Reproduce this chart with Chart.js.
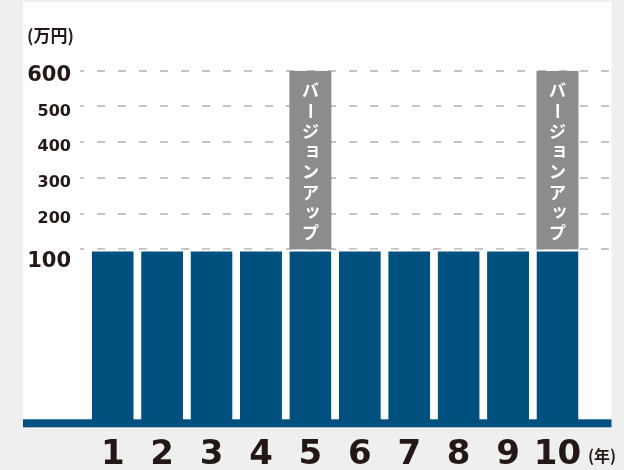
<!DOCTYPE html>
<html>
<head>
<meta charset="utf-8">
<script src="https://cdn.jsdelivr.net/npm/chart.js@4"></script>
<style>
  html, body { margin: 0; background: #efefef; }
  #wrap { width: 624px; height: 470px; }
</style>
</head>
<body>
<div id="wrap"><canvas id="chart"></canvas></div>
<script>
const years = [1, 2, 3, 4, 5, 6, 7, 8, 9, 10];
const baseValues = [100, 100, 100, 100, 100, 100, 100, 100, 100, 100];
const upgradeValues = [0, 0, 0, 0, 500, 0, 0, 0, 0, 500];
const yTicks = [100, 200, 300, 400, 500, 600];
const bigTicks = [100, 600];
const upgradeLabel = 'バージョンアップ';
const yUnit = '(万円)';
const xUnit = '(年)';

const TEXT = '#231815';
const BLUE = '#00507f';
const GREY = '#8c8c8c';

// y axis is stretched below 100 (0-100 takes about half the height)
const BREAK_VALUE = 100;
const BREAK_FRAC = 0.493;

class BrokenScale extends Chart.LinearScale {
  getPixelForValue(value) {
    if (value === null || isNaN(value)) return NaN;
    let d;
    if (value <= BREAK_VALUE) {
      d = (value - this.min) / (BREAK_VALUE - this.min) * BREAK_FRAC;
    } else {
      d = BREAK_FRAC + (value - BREAK_VALUE) / (this.max - BREAK_VALUE) * (1 - BREAK_FRAC);
    }
    return this.getPixelForDecimal(d);
  }
  getValueForPixel(pixel) {
    const d = this.getDecimalForPixel(pixel);
    if (d <= BREAK_FRAC) return this.min + d / BREAK_FRAC * (BREAK_VALUE - this.min);
    return BREAK_VALUE + (d - BREAK_FRAC) / (1 - BREAK_FRAC) * (this.max - BREAK_VALUE);
  }
}
BrokenScale.id = 'broken';
BrokenScale.defaults = Chart.LinearScale.defaults;
Chart.register(BrokenScale);

const decor = {
  id: 'decor',
  beforeDraw(chart) {
    const { ctx, chartArea, scales: { y } } = chart;
    const y0 = y.getPixelForValue(0);
    ctx.save();
    ctx.fillStyle = '#ffffff';
    ctx.fillRect(23, 2, chartArea.right - 23, y0 - 2);
    ctx.fillStyle = TEXT;
    ctx.font = 'bold 17px "Noto Sans CJK JP"';
    ctx.textAlign = 'left';
    ctx.textBaseline = 'middle';
    ctx.fillText(yUnit, 27, 36);
    ctx.restore();
  },
  afterDatasetsDraw(chart) {
    const { ctx, chartArea, scales: { y } } = chart;
    const y0 = y.getPixelForValue(0);
    ctx.save();
    // base line
    ctx.fillStyle = BLUE;
    ctx.fillRect(23, y0 - 4, chartArea.right - 23, 8);

    // vertical label inside the grey bars
    const meta = chart.getDatasetMeta(1);
    const chars = Array.from(upgradeLabel);
    ctx.fillStyle = '#ffffff';
    ctx.font = 'bold 17px "Noto Sans CJK JP"';
    ctx.textAlign = 'center';
    ctx.textBaseline = 'middle';
    meta.data.forEach((el, i) => {
      if (!upgradeValues[i]) return;
      chars.forEach((ch, k) => {
        const cy = el.y + 20 + k * 20.3;
        if (ch === 'ー') {
          ctx.save();
          ctx.translate(el.x, cy);
          ctx.rotate(Math.PI / 2);
          ctx.fillText(ch, 0, 0);
          ctx.restore();
        } else if ('ッョ'.includes(ch)) {
          ctx.fillText(ch, el.x + 2, cy - 2);
        } else {
          ctx.fillText(ch, el.x, cy);
        }
      });
    });

    ctx.fillStyle = TEXT;
    ctx.font = 'bold 16px "Noto Sans CJK JP"';
    ctx.textAlign = 'left';
    ctx.fillText(xUnit, 588, 456);
    ctx.restore();
  }
};

new Chart(document.getElementById('chart'), {
  type: 'bar',
  data: {
    datasets: [
      {
        data: years.map((x, i) => ({ x, y: baseValues[i] })),
        backgroundColor: BLUE,
        borderColor: '#ffffff',
        borderWidth: { top: 2, right: 0, bottom: 0, left: 0 },
        borderSkipped: false,
        barPercentage: 0.85,
        categoryPercentage: 1
      },
      {
        data: years.map((x, i) => ({ x, y: upgradeValues[i] })),
        backgroundColor: GREY,
        borderWidth: 0,
        barPercentage: 0.85,
        categoryPercentage: 1
      }
    ]
  },
  options: {
    responsive: true,
    maintainAspectRatio: false,
    animation: false,
    layout: { padding: { top: 70.7, right: 12.5, left: 0, bottom: 0 } },
    plugins: { legend: { display: false }, tooltip: { enabled: false } },
    scales: {
      x: {
        type: 'linear',
        stacked: true,
        offset: false,
        min: 0.338,
        max: 11.093,
        grid: { display: false },
        border: { display: false },
        afterBuildTicks: s => { s.ticks = years.map(v => ({ value: v })); },
        afterFit: s => { s.height = 46.7; },
        ticks: {
          autoSkip: false,
          maxRotation: 0,
          padding: 3,
          color: TEXT,
          font: { family: 'DejaVu Sans', weight: 'bold', size: 34 }
        }
      },
      y: {
        type: 'broken',
        stacked: true,
        min: 0,
        max: 600,
        afterBuildTicks: s => { s.ticks = yTicks.map(v => ({ value: v })); },
        afterFit: s => { s.width = 80; },
        border: { display: false, dash: [8, 13], dashOffset: 4 },
        grid: { color: '#c4c4c4', lineWidth: 2, drawTicks: false },
        ticks: {
          padding: 9,
          labelOffset: 5,
          color: TEXT,
          // the 100 label sits a little below its grid line
          callback: v => (v === BREAK_VALUE ? ['', String(v)] : String(v)),
          font: c => {
            const big = c.tick && bigTicks.includes(c.tick.value);
            return {
              family: 'DejaVu Sans',
              weight: 'bold',
              size: big ? 21 : 16,
              lineHeight: c.tick && c.tick.value === BREAK_VALUE ? 0.67 : 1.2
            };
          }
        }
      }
    }
  },
  plugins: [decor]
});
</script>
</body>
</html>
